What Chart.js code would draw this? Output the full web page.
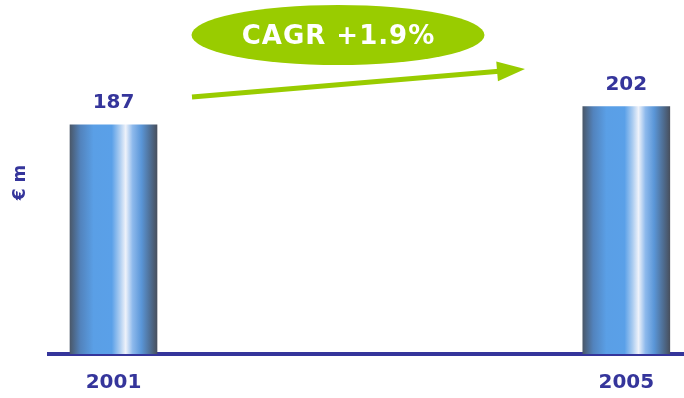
<!DOCTYPE html>
<html>
<head>
<meta charset="utf-8">
<script src="https://cdn.jsdelivr.net/npm/chart.js@4.4.1/dist/chart.umd.min.js"></script>
<style>
  html, body { margin: 0; padding: 0; background: #fff; }
  #wrap { width: 684px; height: 398px; }
</style>
</head>
<body>
<div id="wrap"><canvas id="revenue-chart"></canvas></div>
<script>
// data
let years = [2001, 2005]
let values = [187, 202]
let cagr_label = "CAGR +1.9%"
let unit_label = "€ m"

let text_blue = "#35359b"
let green = "#99cc00"

// shiny cylinder look: dark edges, blue body, white highlight right of centre
function barGradient(ctx) {
  let chart = ctx.chart
  if (!chart.chartArea || ctx.dataIndex === undefined) return "#5a9ee6"
  let cx = chart.scales.x.getPixelForValue(years[ctx.dataIndex])
  let g = chart.ctx.createLinearGradient(cx - 43.5, 0, cx + 43.5, 0)
  g.addColorStop(0, "#4a586a")
  g.addColorStop(0.12, "#5283bd")
  g.addColorStop(0.27, "#5a9fe6")
  g.addColorStop(0.48, "#5aa0e8")
  g.addColorStop(0.57, "#a9cbf0")
  g.addColorStop(0.64, "#eef2fa")
  g.addColorStop(0.72, "#8db9ec")
  g.addColorStop(0.82, "#5a96d8")
  g.addColorStop(0.92, "#4f6f95")
  g.addColorStop(1, "#48505e")
  return g
}

// value labels over bars + the green CAGR bubble and arrow
const decorations = {
  id: "decorations",
  afterDatasetsDraw(chart) {
    let c = chart.ctx
    c.save()
    c.fillStyle = text_blue
    c.font = "bold 20px 'DejaVu Sans'"
    c.textAlign = "center"
    c.textBaseline = "middle"
    chart.getDatasetMeta(0).data.forEach((bar, i) => {
      c.fillText(String(values[i]), bar.x, bar.y - 22)
    })

    // bubble
    c.fillStyle = green
    c.beginPath()
    c.ellipse(338, 35, 146.5, 30, 0, 0, Math.PI * 2)
    c.fill()
    c.fillStyle = "#ffffff"
    c.font = "bold 26px 'DejaVu Sans'"
    c.letterSpacing = "1px"
    c.fillText(cagr_label, 338.5, 37)
    c.letterSpacing = "0px"

    // arrow
    let sx = 192, sy = 97, tx = 525, ty = 69
    let len = Math.hypot(tx - sx, ty - sy)
    let dx = (tx - sx) / len, dy = (ty - sy) / len
    let bx = tx - 28 * dx, by = ty - 28 * dy
    c.strokeStyle = green
    c.lineWidth = 5
    c.beginPath()
    c.moveTo(sx, sy)
    c.lineTo(bx + 2 * dx, by + 2 * dy)
    c.stroke()
    c.fillStyle = green
    c.beginPath()
    c.moveTo(tx, ty)
    c.lineTo(bx - 10 * dy, by + 10 * dx)
    c.lineTo(bx + 10 * dy, by - 10 * dx)
    c.closePath()
    c.fill()
    c.restore()
  }
}

let chart = new Chart(document.querySelector("#revenue-chart"), {
  type: "bar",
  data: {
    datasets: [{
      data: years.map((y, i) => ({ x: y, y: values[i] })),
      backgroundColor: barGradient,
      borderWidth: 0,
      barThickness: 87
    }]
  },
  options: {
    responsive: true,
    maintainAspectRatio: false,
    animation: false,
    layout: { padding: { left: 10, right: 0, top: 11, bottom: 0 } },
    plugins: {
      legend: { display: false },
      tooltip: { enabled: false }
    },
    scales: {
      x: {
        type: "linear",
        min: 2000.5,
        max: 2005.45,
        offset: false,
        z: 1,
        afterBuildTicks: (scale) => {
          scale.ticks = years.map(v => ({ value: v }))
        },
        afterFit: (scale) => { scale.height = 44 },
        grid: { display: false, drawTicks: false, offset: false },
        border: { display: true, color: text_blue, width: 4 },
        ticks: {
          padding: 17,
          color: text_blue,
          font: { family: "'DejaVu Sans'", size: 20, weight: "bold" },
          callback: (v) => String(v)
        }
      },
      y: {
        min: 0,
        max: 280,
        grid: { display: false, drawTicks: false },
        border: { display: false },
        ticks: { display: false },
        title: {
          display: true,
          text: unit_label,
          color: text_blue,
          padding: { top: 0, bottom: 19 },
          font: { family: "'DejaVu Sans'", size: 17, weight: "bold" }
        }
      }
    }
  },
  plugins: [decorations]
})
</script>
</body>
</html>
